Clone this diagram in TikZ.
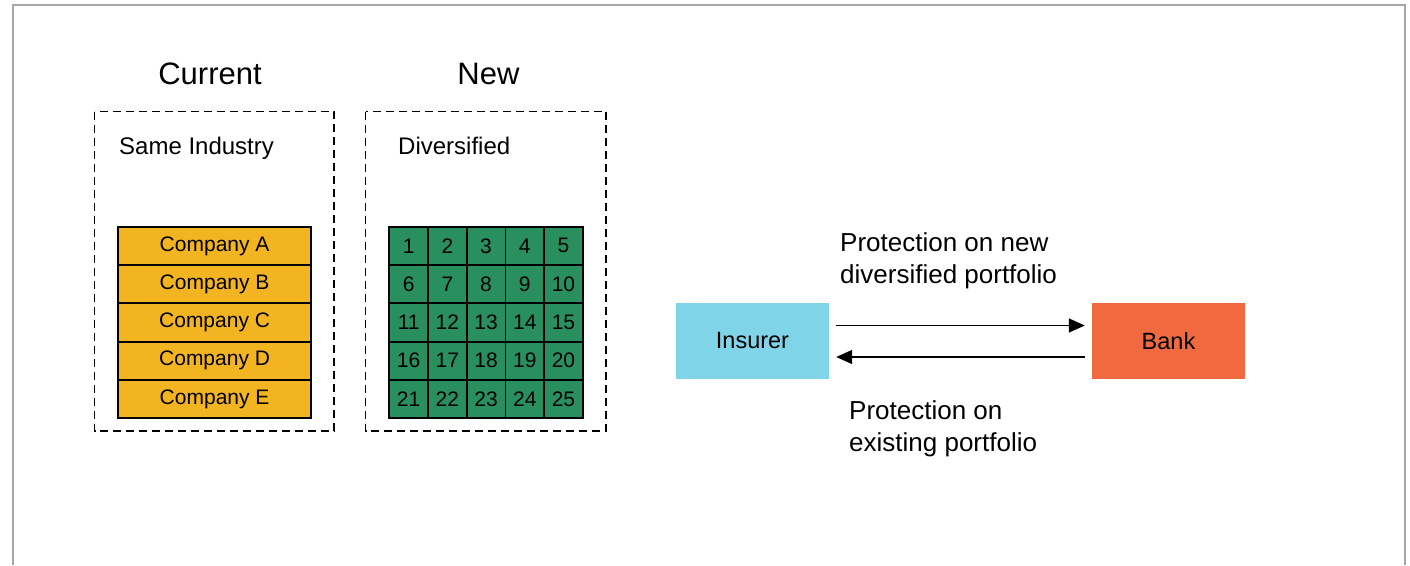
\documentclass[tikz,border=0pt]{standalone}
\usepackage{fontspec}
\setmainfont{Liberation Sans}
\usetikzlibrary{arrows.meta}
\definecolor{frameGray}{HTML}{A6A6A6}
\definecolor{companyYellow}{HTML}{F3B422}
\definecolor{gridGreen}{HTML}{2A8F5E}
\definecolor{insurerBlue}{HTML}{7FD4E8}
\definecolor{bankOrange}{HTML}{F1693F}
\newcommand{\fs}[1]{\fontsize{#1}{#1}\selectfont}
\tikzset{
  title/.style={anchor=base, inner sep=0, font=\fs{31}},
  grouplabel/.style={anchor=base west, inner sep=0, font=\fs{24}},
  groupbox/.style={draw=black, line width=1.8, dash pattern=on 8pt off 5pt},
  company/.style={draw=black, line width=1.8, fill=companyYellow, minimum width=193, minimum height=38.3, inner sep=0, font=\fs{21}},
  cell/.style={draw=black, line width=1.8, fill=gridGreen, minimum width=38.7, minimum height=38.3, inner sep=0, font=\fs{21}},
  party/.style={minimum width=153, minimum height=76, inner sep=0, font=\fs{23.5}},
  flow/.style={line width=1.6, -{Triangle[length=16pt,width=14pt]}},
  flowlabel/.style={anchor=base west, inner sep=0, align=left, font=\fontsize{26}{31.5}\selectfont},
}
\begin{document}
\begin{tikzpicture}[x=1pt,y=-1pt]
\useasboundingbox (0,0) rectangle (1410,565);
% page frame, open at the bottom
\draw[frameGray, line width=2] (13,565) -- (13,5) -- (1405,5) -- (1405,565);

% current portfolio: one industry
\node[title] (tcur) at (210,84) {Current};
\draw[groupbox] (94.5,111.5) rectangle (334,431);
\node[grouplabel] (lcur) at (119,154) {Same Industry};
\foreach \n [count=\i from 0] in {A,B,C,D,E}
  \node[company] (c\n) at (214.6,{226.7+38.3*(\i+0.5)}) {\raisebox{-1.5pt}{Company \n}};

% new portfolio: 5x5 diversified grid
\node[title] (tnew) at (488.5,84) {New};
\draw[groupbox] (365.5,111.5) rectangle (606,431);
\node[grouplabel] (lnew) at (398,154) {Diversified};
\foreach \r in {0,...,4}
  \foreach \c in {0,...,4} {
    \pgfmathtruncatemacro{\k}{5*\r+\c+1}
    \node[cell] (g\k) at ({389.3+38.7*(\c+0.5)},{226.7+38.3*(\r+0.5)}) {\raisebox{-1.5pt}{\k}};
  }

% protection swap between insurer and bank
\node[party, fill=insurerBlue] (ins) at (752.5,341) {Insurer};
\node[party, fill=bankOrange] (bank) at (1168.5,341) {Bank};
\draw[flow] ([xshift=7pt,yshift=15.5pt]ins.east) -- ([xshift=-7pt,yshift=15.5pt]bank.west);
\draw[flow] ([xshift=-7pt,yshift=-16pt]bank.west) -- ([xshift=7pt,yshift=-16pt]ins.east);
\node[flowlabel] (fnew) at (840,283) {Protection on new\\diversified portfolio};
\node[flowlabel] (fold) at (849,451) {Protection on\\existing portfolio};
\end{tikzpicture}
\end{document}
